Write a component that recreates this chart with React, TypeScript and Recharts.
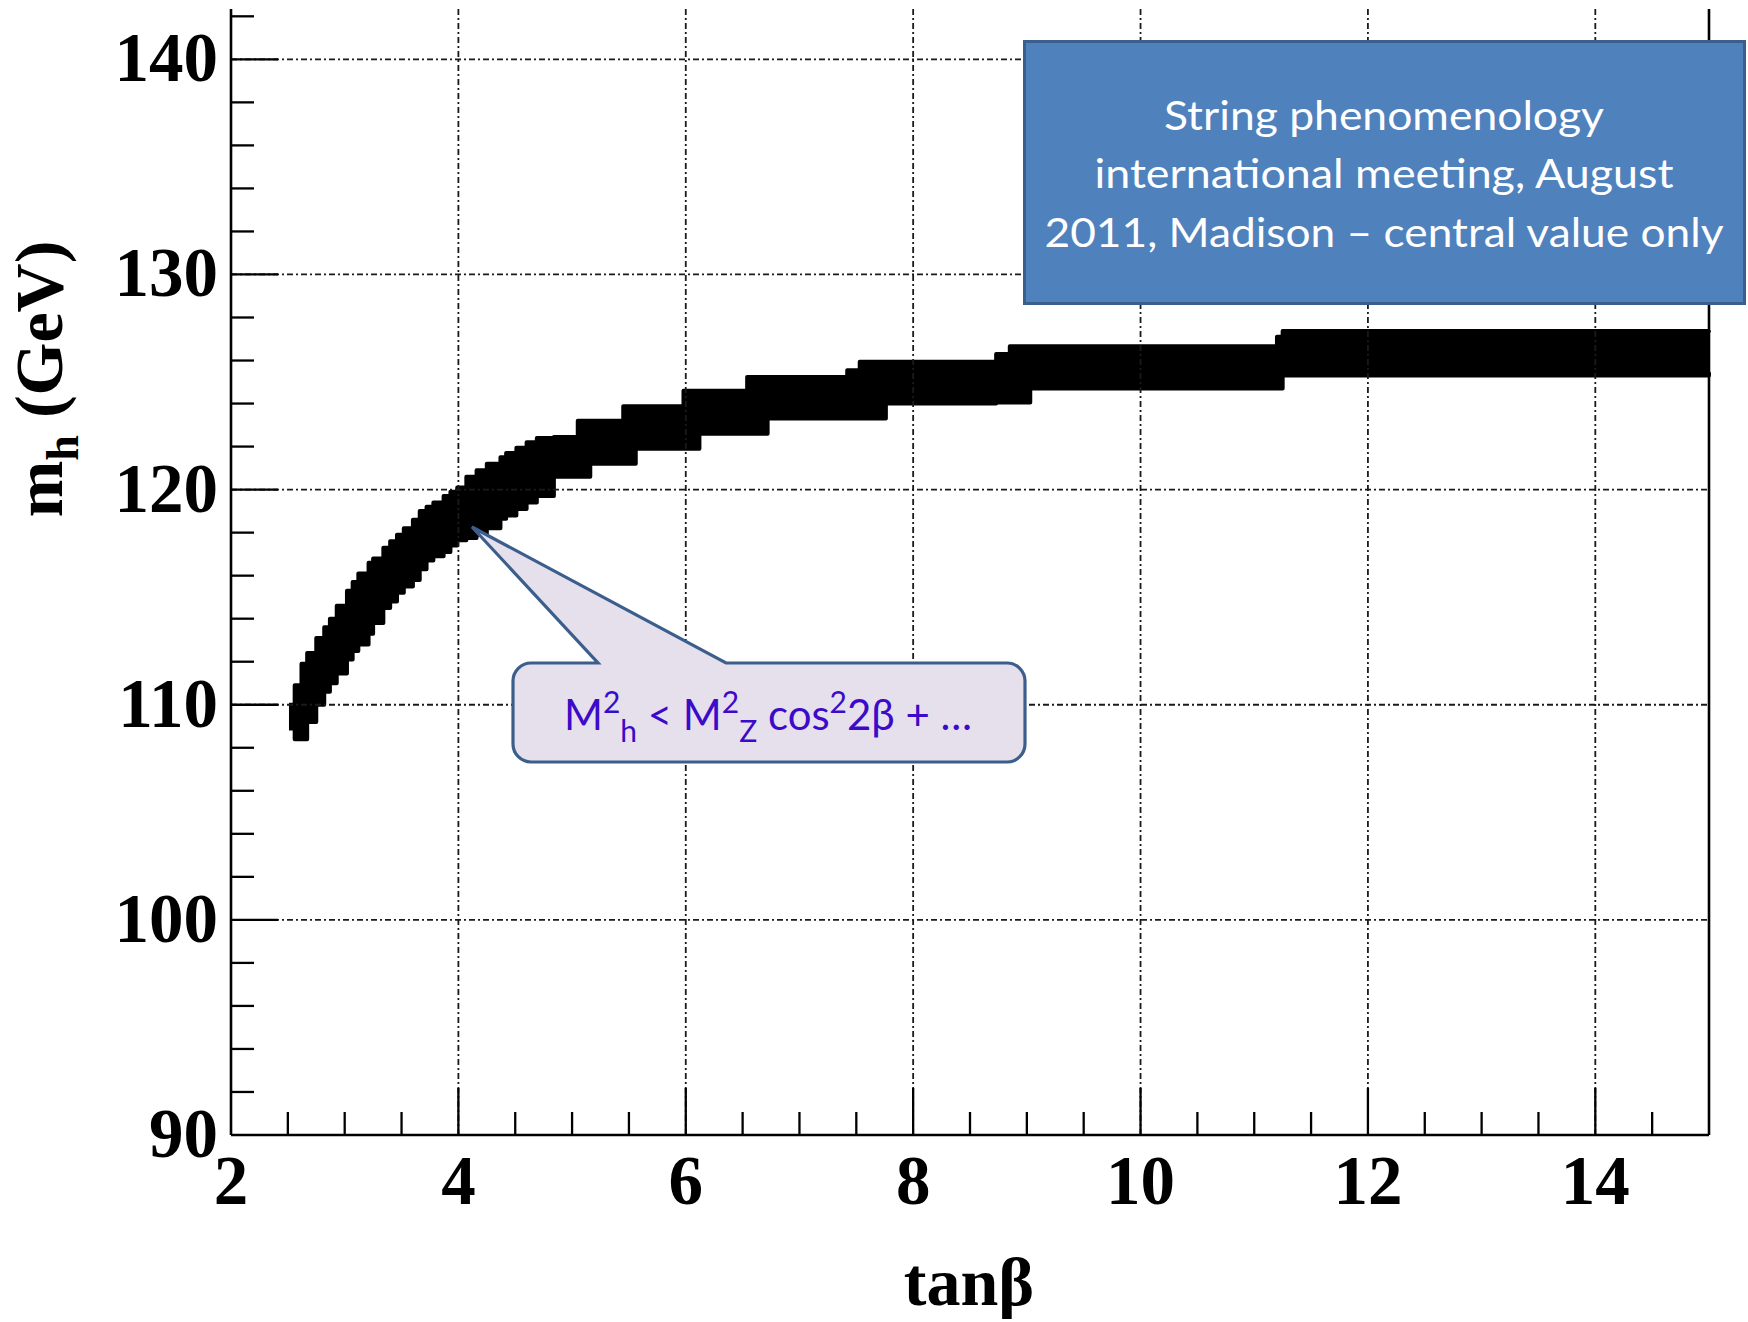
import React from 'react';
import { ComposedChart, Area, XAxis, YAxis, ReferenceLine } from 'recharts';

// tan(beta) sample positions along the scan band
const tanBeta = [
  2.51, 2.56, 2.62, 2.67, 2.75, 2.82, 2.87, 2.93, 3.02, 3.07, 3.12, 3.21, 3.25, 3.34, 3.4, 3.46,
  3.52, 3.6, 3.66, 3.72, 3.78, 3.87, 3.93, 3.99, 4.07, 4.16, 4.25, 4.37, 4.42, 4.51, 4.6, 4.69,
  4.84, 5.05, 5.16, 5.45, 5.56, 5.98, 6.12, 6.54, 6.72, 7.42, 7.53, 7.76, 8.73, 8.85, 9.03,
  11.2, 11.25, 15.0,
];
// lower edge of the m_h band (GeV)
const mhLow = [
  108.9, 108.4, 108.4, 109.2, 110.0, 110.6, 111.0, 111.45, 112.1, 112.5, 112.8, 113.3, 113.8, 114.5,
  114.8, 115.2, 115.5, 115.8, 116.3, 116.7, 116.9, 117.1, 117.4, 117.65, 117.75, 117.9, 118.2, 118.65,
  118.8, 119.1, 119.4, 119.7, 120.6, 120.6, 121.2, 121.2, 121.9, 121.9, 122.6, 122.6, 123.3, 123.3,
  123.3, 124.0, 124.05, 124.05, 124.7, 124.7, 125.3, 125.45,
];
// upper edge of the m_h band (GeV)
const mhHigh = [
  110.0, 110.9, 111.9, 112.4, 113.1, 113.6, 114.0, 114.6, 115.3, 115.7, 116.1, 116.6, 116.8, 117.3,
  117.6, 117.9, 118.2, 118.6, 119.0, 119.2, 119.4, 119.7, 119.9, 120.1, 120.6, 120.9, 121.2, 121.5,
  121.7, 121.95, 122.2, 122.4, 122.45, 123.2, 123.2, 123.87, 123.87, 124.6, 124.6, 125.24, 125.24,
  125.55, 125.94, 125.94, 126.3, 126.66, 126.66, 127.1, 127.37, 127.4,
];

const xTicks = [
  2, 2.5, 3, 3.5, 4, 4.5, 5, 5.5, 6, 6.5, 7, 7.5, 8, 8.5, 9, 9.5, 10, 10.5, 11, 11.5, 12, 12.5, 13,
  13.5, 14, 14.5,
];
const yTicks = [
  90, 92, 94, 96, 98, 100, 102, 104, 106, 108, 110, 112, 114, 116, 118, 120, 122, 124, 126, 128, 130,
  132, 134, 136, 138, 140, 142,
];
const xGrid = [4, 6, 8, 10, 12, 14];
const yGrid = [100, 110, 120, 130, 140];

const boxLines = [
  'String phenomenology',
  'international meeting, August',
  '2011, Madison \u2013 central value only',
];

const data = tanBeta.map((x, i) => ({ x, band: [mhLow[i], mhHigh[i]] }));

const SERIF = "'Liberation Serif', 'Times New Roman', serif";
const SANS = "Lato, 'Open Sans', sans-serif";

const XTick = (props: any) => {
  const { x, y, payload } = props;
  const v = payload.value as number;
  const major = Math.abs(v % 2) < 1e-9;
  return (
    <g>
      {v > 2.001 && (
        <line x1={x} y1={y} x2={x} y2={y - (major ? 47 : 23)} stroke="#000" strokeWidth={2.3} />
      )}
      {major && (
        <text
          x={x}
          y={y + 69}
          textAnchor="middle"
          fontFamily={SERIF}
          fontWeight="bold"
          fontSize={69}
          fill="#000"
        >
          {v}
        </text>
      )}
    </g>
  );
};

const YTick = (props: any) => {
  const { x, y, payload } = props;
  const v = payload.value as number;
  const major = Math.abs(v % 10) < 1e-9;
  return (
    <g>
      {v > 90.001 && (
        <line x1={x} y1={y} x2={x + (major ? 47 : 23)} y2={y} stroke="#000" strokeWidth={2.3} />
      )}
      {major && (
        <text
          x={x - 13}
          y={y + 22}
          textAnchor="end"
          fontFamily={SERIF}
          fontWeight="bold"
          fontSize={69}
          fill="#000"
        >
          {v}
        </text>
      )}
    </g>
  );
};

const gridStyle = { stroke: '#1a1a1a', strokeWidth: 1.8, strokeDasharray: '6 3 2 3' };

export default function App() {
  return (
    <div style={{ position: 'absolute', left: 0, top: 0, width: 1748, height: 1322, background: '#fff' }}>
      <ComposedChart
        width={1748}
        height={1322}
        data={data}
        margin={{ top: 9, right: 39, bottom: 0, left: 0 }}
      >
        <XAxis
          type="number"
          dataKey="x"
          domain={[2, 15]}
          ticks={xTicks}
          interval={0}
          tickSize={0}
          tickMargin={0}
          tickLine={false}
          height={187}
          axisLine={{ stroke: '#000', strokeWidth: 2.6 }}
          tick={<XTick />}
        />
        <YAxis
          type="number"
          domain={[90, 142.34]}
          ticks={yTicks}
          interval={0}
          tickSize={0}
          tickMargin={0}
          tickLine={false}
          width={231}
          axisLine={{ stroke: '#000', strokeWidth: 2.6 }}
          tick={<YTick />}
          allowDataOverflow
        />
        {xGrid.map((v) => (
          <ReferenceLine key={'gx' + v} x={v} {...gridStyle} />
        ))}
        {yGrid.map((v) => (
          <ReferenceLine key={'gy' + v} y={v} {...gridStyle} />
        ))}
        <ReferenceLine x={15} stroke="#000" strokeWidth={2.6} />
        <Area
          dataKey="band"
          type="stepAfter"
          fill="#000"
          fillOpacity={1}
          stroke="#000"
          strokeWidth={4}
          strokeLinejoin="round"
          isAnimationActive={false}
          dot={false}
          activeDot={false}
        />
      </ComposedChart>
      <svg
        width={1748}
        height={1322}
        style={{ position: 'absolute', left: 0, top: 0, pointerEvents: 'none' }}
      >
        {/* axis titles */}
        <text
          x={969}
          y={1305}
          textAnchor="middle"
          fontFamily={SERIF}
          fontWeight="bold"
          fontSize={68}
          fill="#000"
        >
          tanβ
        </text>
        <text
          transform="translate(62,379) rotate(-90)"
          textAnchor="middle"
          fontFamily={SERIF}
          fontWeight="bold"
          fontSize={68}
          fill="#000"
        >
          m
          <tspan fontSize={46} dy={16}>
            h
          </tspan>
          <tspan dy={-16}> (GeV)</tspan>
        </text>

        {/* blue info box */}
        <rect x={1024.5} y={41.5} width={720} height={262} fill="#4F81BD" stroke="#3A5F8C" strokeWidth={3} />
        {boxLines.map((t, i) => (
          <text
            key={t}
            x={1384}
            y={[130, 188, 247][i]}
            textAnchor="middle"
            fontFamily={SANS}
            fontSize={41}
            fill="#fff"
            textLength={[440, 579, 679][i]}
            lengthAdjust="spacingAndGlyphs"
          >
            {t}
          </text>
        ))}

        {/* callout */}
        <path
          d="M 531 663 L 598 663 L 472 527 L 726 663 L 1007 663 A 18 18 0 0 1 1025 681 L 1025 744 A 18 18 0 0 1 1007 762 L 531 762 A 18 18 0 0 1 513 744 L 513 681 A 18 18 0 0 1 531 663 Z"
          fill="#E5E0EC"
          stroke="#3B5E8C"
          strokeWidth={3.2}
          strokeLinejoin="miter"
        />
        <text
          x={564}
          y={730}
          fontFamily={SANS}
          fontSize={42}
          fill="#3C0AC8"
          textLength={408}
          lengthAdjust="spacingAndGlyphs"
        >
          M
          <tspan fontSize={30} dy={-17}>2</tspan>
          <tspan fontSize={30} dy={29}>h</tspan>
          <tspan dy={-12}> &lt; M</tspan>
          <tspan fontSize={30} dy={-17}>2</tspan>
          <tspan fontSize={30} dy={29}>Z</tspan>
          <tspan dy={-12}> cos</tspan>
          <tspan fontSize={30} dy={-17}>2</tspan>
          <tspan dy={17}>2β + …</tspan>
        </text>
      </svg>
    </div>
  );
}
